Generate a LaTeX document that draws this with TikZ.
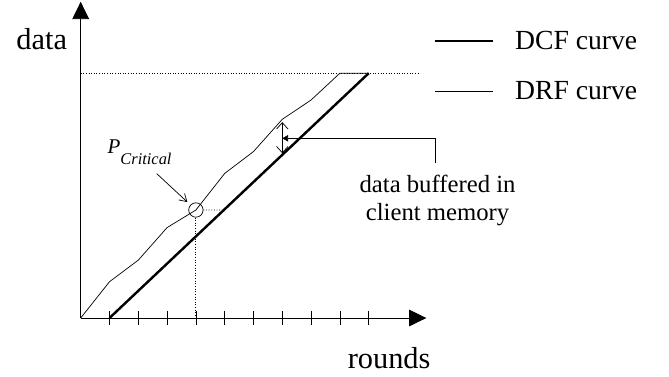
\documentclass[tikz,border=0pt]{standalone}
\usepackage{fontspec}
\setmainfont{Liberation Serif}
\usetikzlibrary{arrows.meta,calc,positioning}
\begin{document}
\begin{tikzpicture}[ax/.style={line width=0.8pt,-{Triangle[length=0.6cm,width=0.58cm]}},
	dcf/.style={line width=2.4pt},
	drf/.style={line width=0.7pt},
	dots/.style={line width=0.8pt,dash pattern=on 0.8pt off 1.8pt},
	big/.style={font=\fontsize{30}{34}\selectfont,inner sep=0},
	leg/.style={font=\fontsize{27.3}{31}\selectfont,inner sep=0},
	note/.style={font=\fontsize{24.4}{28}\selectfont,inner sep=0,align=center},
	barb/.style={line width=0.7pt,{Straight Barb[length=0.22cm,width=0.4cm]}-{Straight Barb[length=0.22cm,width=0.4cm]}}]
	\useasboundingbox (-2.802,-2.014) rectangle (20.427,11.042);
	% axes
	\coordinate (O) at (0,0);
	\coordinate (ytop) at (0,10.98);
	\coordinate (xend) at (12,0);
	\draw[ax] (O) -- (ytop);
	\draw[ax] (O) -- (xend);
	\foreach \k in {1,...,10}
		\draw[drf] (\k,-0.24) -- (\k,0.24);
	\node[big,anchor=base] (ylab) at (-1.354,9.31) {data};
	\node[big,anchor=base] (xlab) at (10.71,-1.747) {rounds};
	\draw[dots] (O |- 0,8.5) -- (11.71,8.5);
	% curves
	\draw[dcf] (1,0) coordinate (c0) -- (10,8.5) coordinate (c1);
	\draw[drf] (O) -- (1,1.26) -- (2,2.01) -- (3,3.14) -- (4,3.75) -- (5,5.02)
		-- (6,5.78) -- (7,6.90) -- (8,7.57) -- (9,8.5) -- (c1);
	\node[draw,circle,minimum size=0.5cm,inner sep=0,line width=0.7pt] (crit) at (4,3.75) {};
	\coordinate (hit) at ($(c0)!0.4412!(c1)$);
	\draw[dots] (crit.south) -- (crit.south |- O);
	\draw[dots] (crit.east) -- (hit);
	\node[anchor=base west,inner sep=0] (pcrit) at (0.93,5.72)
		{\fontsize{20.7}{24}\selectfont\textit{P}\raisebox{-11.5pt}{\fontsize{16.2}{19}\selectfont\textit{Critical}}};
	\draw[drf,-{Straight Barb[length=0.25cm,width=0.3cm]},shorten >=0.14cm]
		($(pcrit.south east)+(-0.52,-0.29)$) -- (crit);
	% buffered data
	\coordinate (r7) at (7,6.80);
	\coordinate (c7) at (7,5.72);
	\draw[barb] (r7) -- (c7);
	\node[note,anchor=north] (buf) at (12.39,4.97) {data buffered in\\client memory};
	\coordinate (lk) at (12.30,6.24);
	\draw[drf,-{Triangle[length=0.2cm,width=0.22cm]}] ($(buf.north)+(-0.09,0.4)$) -- (lk) -- (lk -| r7);
	% legend
	\node[leg,anchor=base west] (ldcf) at (15.08,9.306) {DCF curve};
	\node[leg,anchor=base west] (ldrf) at (15.08,7.57) {DRF curve};
	\draw[dcf] ([xshift=-2.78cm]ldcf.west) -- ([xshift=-0.76cm]ldcf.west);
	\draw[drf] ([xshift=-2.78cm]ldrf.west) -- ([xshift=-0.76cm]ldrf.west);
\end{tikzpicture}
\end{document}
